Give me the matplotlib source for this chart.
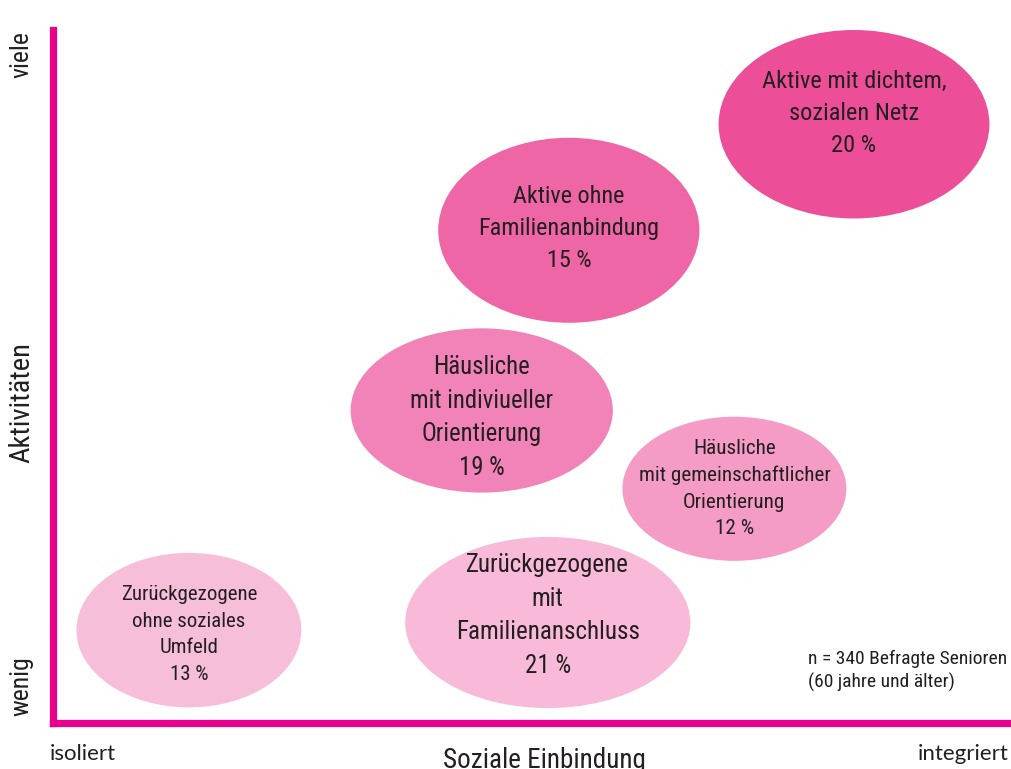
import matplotlib
matplotlib.use("Agg")
import matplotlib.pyplot as plt
from matplotlib import font_manager as fm
from matplotlib.patches import Ellipse

# ── Segments: position on the two axes (0–100), ellipse size, colour ─────────
LABELS = [
    "Aktive mit dichtem,\nsozialen Netz",
    "Aktive ohne\nFamilienanbindung",
    "Häusliche\nmit indiviueller\nOrientierung",
    "Häusliche\nmit gemeinschaftlicher\nOrientierung",
    "Zurückgezogene\nmit\nFamilienanschluss",
    "Zurückgezogene\nohne soziales\nUmfeld",
]
SHARES   = [20, 15, 19, 12, 21, 13]
EINBIND  = [83.7, 53.9, 44.8, 71.2, 51.7, 14.2]   # x: Soziale Einbindung
AKTIV    = [86.4, 71.1, 45.1, 33.8, 14.5, 13.4]   # y: Aktivitäten
WIDTHS   = [28.3, 27.3, 27.4, 23.4, 29.8, 23.5]
HEIGHTS  = [27.2, 26.7, 23.7, 20.8, 24.7, 22.3]
COLORS   = ["#EC4F98", "#EF66A6", "#F283B8", "#F49BC6", "#F8BAD8", "#F7BEDA"]

# label styling per ellipse
FONTSIZE = [17.6, 17.4, 17.8, 15.2, 18.0, 15.0]
TEXT_DY  = [1.6, 0.3, -1.0, 0.0, 1.0, -0.6]

AXIS_COLOR = "#E8008A"
TEXT_COLOR = "#231F20"


def pick_font():
    names = {f.name for f in fm.fontManager.ttflist}
    for cand in ["Roboto Condensed", "Liberation Sans Narrow", "Open Sans Condensed"]:
        if cand in names:
            return dict(family=cand)
    cond = [f for f in fm.fontManager.ttflist
            if f.name == "DejaVu Sans" and "condensed" in str(f.stretch).lower()]
    if cond:
        return dict(family="DejaVu Sans", stretch="condensed")
    return dict(family="Roboto")


FONT = pick_font()

fig = plt.figure(figsize=(10.12, 7.69), dpi=100)
ax = fig.add_axes([53 / 1012, 46 / 769, 957 / 1012, 693 / 769])
ax.set_xlim(0, 100)
ax.set_ylim(0, 100)

for lab, pct, x, y, w, h, c, fs, dy in zip(LABELS, SHARES, EINBIND, AKTIV, WIDTHS,
                                           HEIGHTS, COLORS, FONTSIZE, TEXT_DY):
    ax.add_patch(Ellipse((x, y), w, h, facecolor=c, edgecolor="none", zorder=1))
    ax.text(x, y + dy, f"{lab}\n{pct} %", ha="center", va="center",
            fontsize=fs, color=TEXT_COLOR, linespacing=1.5, zorder=2, **FONT)

for side in ["top", "right"]:
    ax.spines[side].set_visible(False)
for side in ["left", "bottom"]:
    ax.spines[side].set_color(AXIS_COLOR)
    ax.spines[side].set_linewidth(5.2)
    ax.spines[side].set_capstyle("projecting")
ax.set_xticks([])
ax.set_yticks([])

# axis annotations
ax.text(-0.033, 0.998, "viele", rotation=90, ha="center", va="top",
        fontsize=18.5, color=TEXT_COLOR, transform=ax.transAxes, **FONT)
ax.text(-0.033, 0.462, "Aktivitäten", rotation=90, ha="center", va="center",
        fontsize=20.5, color=TEXT_COLOR, transform=ax.transAxes, **FONT)
ax.text(-0.033, 0.01, "wenig", rotation=90, ha="center", va="bottom",
        fontsize=18.5, color=TEXT_COLOR, transform=ax.transAxes, **FONT)

ax.text(-0.003, -0.03, "isoliert", ha="left", va="top", fontsize=16,
        color=TEXT_COLOR, family="Lato", transform=ax.transAxes)
ax.text(0.999, -0.03, "integriert", ha="right", va="top", fontsize=16,
        color=TEXT_COLOR, family="Lato", transform=ax.transAxes)
ax.text(0.514, -0.034, "Soziale Einbindung", ha="center", va="top",
        fontsize=19.5, color=TEXT_COLOR, transform=ax.transAxes, **FONT)

ax.text(0.789, 0.075, "n = 340 Befragte Senioren\n(60 jahre und älter)",
        ha="left", va="center", fontsize=14, color=TEXT_COLOR,
        linespacing=1.35, transform=ax.transAxes, **FONT)

fig.savefig("out.png", dpi=100)
